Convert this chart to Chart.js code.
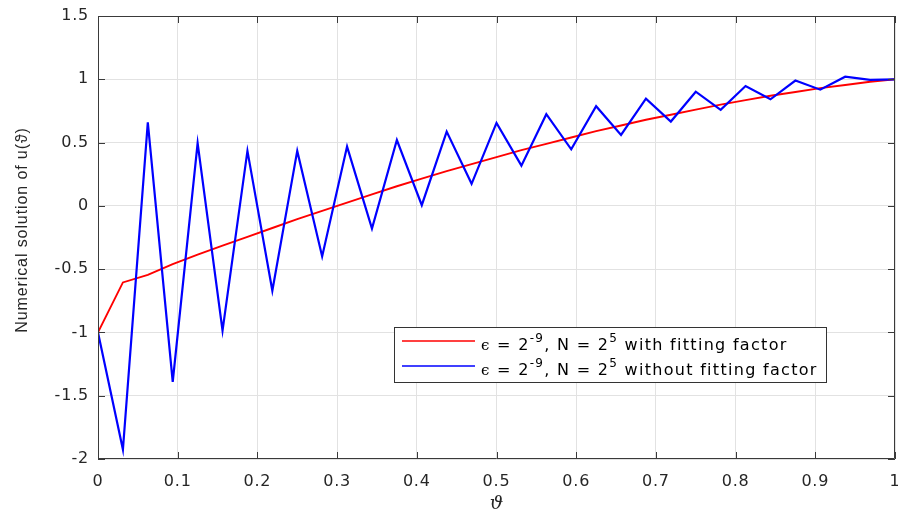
<!DOCTYPE html>
<html>
<head>
<meta charset="utf-8">
<script src="https://cdn.jsdelivr.net/npm/chart.js@4.4.1/dist/chart.umd.min.js"></script>
<style>
  html, body { margin: 0; padding: 0; background: #ffffff; }
  #wrap { width: 898px; height: 513px; position: relative; }
</style>
</head>
<body>
<div id="wrap"><canvas id="c" width="898" height="513"></canvas></div>
<script>
// Grid nodes (N = 2^5)
const xNodes = [0, 0.03125, 0.0625, 0.09375, 0.125, 0.15625, 0.1875, 0.21875, 0.25,
  0.28125, 0.3125, 0.34375, 0.375, 0.40625, 0.4375, 0.46875, 0.5,
  0.53125, 0.5625, 0.59375, 0.625, 0.65625, 0.6875, 0.71875, 0.75,
  0.78125, 0.8125, 0.84375, 0.875, 0.90625, 0.9375, 0.96875, 1];

// With fitting factor (red)
const withFitting = [-1, -0.605, -0.545, -0.46, -0.385, -0.315, -0.245, -0.175, -0.105,
  -0.04, 0.025, 0.09, 0.155, 0.215, 0.275, 0.33, 0.385,
  0.44, 0.49, 0.54, 0.59, 0.635, 0.68, 0.72, 0.76,
  0.8, 0.835, 0.87, 0.9, 0.93, 0.955, 0.98, 1.0];

// Without fitting factor (blue)
const withoutFitting = [-1, -1.925, 0.66, -1.39, 0.495, -0.985, 0.434, -0.67, 0.434,
  -0.40, 0.468, -0.18, 0.52, 0.005, 0.587, 0.174, 0.655,
  0.318, 0.724, 0.447, 0.787, 0.56, 0.847, 0.666, 0.902,
  0.758, 0.947, 0.842, 0.99, 0.918, 1.02, 0.995, 1.0];

const xTicks = [0, 0.1, 0.2, 0.3, 0.4, 0.5, 0.6, 0.7, 0.8, 0.9, 1];
const yTicks = [-2, -1.5, -1, -0.5, 0, 0.5, 1, 1.5];

const xTitle = '\u03D1';
const yTitle = 'Numerical solution of u(\u03D1)';

const legendLabels = [
  { color: '#ff0000', eps: '\u03F5', a: ' = 2', sup1: '-9', mid: ', N = 2', sup2: '5', tail: ' with fitting factor' },
  { color: '#0000ff', eps: '\u03F5', a: ' = 2', sup1: '-9', mid: ', N = 2', sup2: '5', tail: ' without fitting factor' }
];

const toPts = (ys) => xNodes.map((x, i) => ({ x: x, y: ys[i] }));

const SANS = '"DejaVu Sans", "Liberation Sans", Arial, sans-serif';
const LSANS = '"Liberation Sans", Arial, sans-serif';
const AXIS_COLOR = '#3a3a3a';
const TEXT_COLOR = '#262626';

const boxPlugin = {
  id: 'matlabBox',
  beforeDraw(chart) {
    chart.ctx.letterSpacing = '0.8px';
  },
  afterDatasetsDraw(chart) {
    const { ctx, chartArea: a, scales } = chart;
    ctx.save();
    ctx.letterSpacing = '0px';
    ctx.strokeStyle = AXIS_COLOR;
    ctx.lineWidth = 1;
    ctx.beginPath();
    ctx.rect(a.left + 0.5, a.top + 0.5, a.right - a.left - 1, a.bottom - a.top - 1);
    ctx.stroke();
    const tl = 7;
    ctx.beginPath();
    xTicks.forEach(v => {
      const px = Math.round(scales.x.getPixelForValue(v)) + 0.5;
      ctx.moveTo(px, a.bottom); ctx.lineTo(px, a.bottom - tl);
      ctx.moveTo(px, a.top); ctx.lineTo(px, a.top + tl);
    });
    yTicks.forEach(v => {
      const py = Math.round(scales.y.getPixelForValue(v)) + 0.5;
      ctx.moveTo(a.left, py); ctx.lineTo(a.left + tl, py);
      ctx.moveTo(a.right, py); ctx.lineTo(a.right - tl, py);
    });
    ctx.stroke();

    // Legend
    const lx = 394, ly = 327, lw = 432, lh = 55;
    ctx.fillStyle = '#ffffff';
    ctx.fillRect(lx, ly, lw, lh);
    ctx.strokeStyle = '#333333';
    ctx.strokeRect(lx + 0.5, ly + 0.5, lw, lh);
    legendLabels.forEach((L, i) => {
      const yy = ly + 14 + i * 25;
      ctx.strokeStyle = L.color;
      ctx.lineWidth = 1.5;
      ctx.beginPath();
      ctx.moveTo(402, yy); ctx.lineTo(475, yy);
      ctx.stroke();
      let x = 481;
      const base = yy + 9;
      ctx.fillStyle = '#000000';
      ctx.textBaseline = 'alphabetic';
      ctx.textAlign = 'left';
      ctx.letterSpacing = '1.3px';
      const big = '16px ' + SANS, small = '12px ' + SANS;
      ctx.font = '15px "DejaVu Serif", serif';
      ctx.fillText(L.eps, x, base); x += ctx.measureText(L.eps).width;
      ctx.font = big;
      ctx.fillText(L.a, x, base); x += ctx.measureText(L.a).width;
      ctx.font = small;
      ctx.fillText(L.sup1, x, base - 8); x += ctx.measureText(L.sup1).width;
      ctx.font = big;
      ctx.fillText(L.mid, x, base); x += ctx.measureText(L.mid).width;
      ctx.font = small;
      ctx.fillText(L.sup2, x, base - 8); x += ctx.measureText(L.sup2).width;
      ctx.font = big;
      ctx.fillText(L.tail, x, base);
    });
    ctx.restore();
  },
  afterDraw(chart) {
    const { ctx, chartArea: a } = chart;
    ctx.save();
    // x title
    ctx.letterSpacing = '0px';
    ctx.fillStyle = TEXT_COLOR;
    ctx.textAlign = 'center';
    ctx.textBaseline = 'alphabetic';
    ctx.font = 'italic 19px "DejaVu Serif", serif';
    ctx.fillText(xTitle, (a.left + a.right) / 2, 509);
    // y title
    ctx.translate(27, 230);
    ctx.rotate(-Math.PI / 2);
    ctx.letterSpacing = '0.9px';
    ctx.font = '16px ' + LSANS;
    ctx.fillText(yTitle, 0, 0);
    ctx.restore();
    chart.ctx.letterSpacing = '0px';
  }
};

new Chart(document.getElementById('c'), {
  type: 'line',
  data: {
    datasets: [
      { label: 'without fitting factor', data: toPts(withoutFitting), borderColor: '#0000ff',
        borderWidth: 2.2, pointRadius: 0, tension: 0, fill: false, order: 0 },
      { label: 'with fitting factor', data: toPts(withFitting), borderColor: '#ff0000',
        borderWidth: 1.9, pointRadius: 0, tension: 0, fill: false, order: 1 }
    ]
  },
  options: {
    responsive: false,
    animation: false,
    layout: { padding: { left: 0, top: 16, right: 3, bottom: 0 } },
    plugins: { legend: { display: false }, tooltip: { enabled: false } },
    scales: {
      x: {
        type: 'linear', min: 0, max: 1,
        afterBuildTicks: (s) => { s.ticks = xTicks.map(v => ({ value: v })); },
        afterFit: (s) => { s.height = 54; s.paddingLeft = 0; s.paddingRight = 0; },
        grid: { color: '#e2e2e2', drawTicks: false },
        border: { display: false },
        ticks: { color: TEXT_COLOR, font: { family: SANS, size: 16 }, padding: 13, maxRotation: 0,
                 callback: (v) => String(v) },
        title: { display: false }
      },
      y: {
        type: 'linear', min: -2, max: 1.5,
        afterBuildTicks: (s) => { s.ticks = yTicks.map(v => ({ value: v })); },
        afterFit: (s) => { s.width = 98; s.paddingTop = 0; s.paddingBottom = 0; },
        grid: { color: '#e2e2e2', drawTicks: false },
        border: { display: false },
        ticks: { color: TEXT_COLOR, font: { family: SANS, size: 16 }, padding: 9,
                 callback: (v) => String(v) },
        title: { display: false }
      }
    }
  },
  plugins: [boxPlugin]
});
</script>
</body>
</html>
